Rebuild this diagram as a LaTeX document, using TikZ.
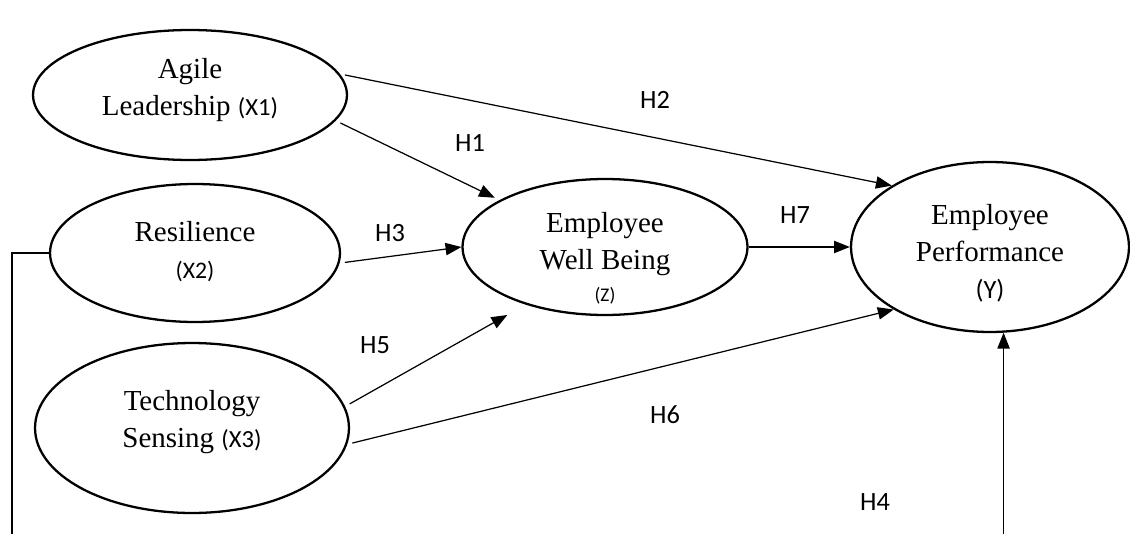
\documentclass[tikz,border=0pt]{standalone}
\usepackage{fontspec}
\setmainfont{Liberation Serif}
\newfontfamily\hfont{Carlito}
\usetikzlibrary{shapes.geometric,arrows.meta}

% text block moved up/down inside its ellipse
\newcommand{\vlift}[2]{\raisebox{#1}[0pt][0pt]{\begin{tabular}{@{}c@{}}#2\end{tabular}}}

\tikzset{
  var/.style={draw, ellipse, line width=1.3pt, inner sep=0pt,
    font=\fontsize{16.5}{21}\selectfont},
  hyp/.style={draw, line width=0.7pt, shorten <=3pt, -{Triangle[length=9pt,width=7pt]}},
  hlab/.style={font=\hfont\fontsize{15}{18}\selectfont},
}

\begin{document}
\begin{tikzpicture}[x=0.02cm, y=-0.02cm]
   \useasboundingbox (0,0) rectangle (1130,534);
   \clip (0,0) rectangle (1130,534);
   \node[var, minimum width=6.28cm, minimum height=2.6cm] (X1) at (190,95)
      {\vlift{-1.3pt}{Agile\\Leadership {\hfont\fontsize{14}{21}\selectfont(X1)}}};
   \node[var, minimum width=5.8cm, minimum height=2.76cm] (X2) at (195,253)
      {\vlift{-4.1pt}{Resilience\\{\hfont\fontsize{13.5}{21}\selectfont(X2)}}};
   \node[var, minimum width=6.28cm, minimum height=3.4cm] (X3) at (192,428)
      {\vlift{-0.7pt}{Technology\\Sensing {\hfont\fontsize{14}{21}\selectfont(X3)}}};
   \node[var, minimum width=5.7cm, minimum height=2.72cm] (Z) at (605,247)
      {\vlift{-11.5pt}{Employee\\Well Being\\[-3pt]{\hfont\fontsize{11}{14}\selectfont(Z)}}};
   \node[var, minimum width=5.56cm, minimum height=3.4cm] (Y) at (990,247)
      {\vlift{-8.5pt}{Employee\\Performance\\{\hfont\fontsize{15}{21}\selectfont(Y)}}};
   \coordinate (c1) at (12,560);
   \draw[hyp] (X1.8) -- (Y.148);
   \draw[hyp, shorten >=3pt] (X1.-10) -- (Z.156);
   \draw[hyp] (X2.-4) -- (Z.west);
   \draw[hyp, shorten <=0pt] (Z.east) -- (Y.west);
   \draw[hyp, shorten >=12pt] (X3.8) -- (Z.216);
   \draw[hyp] (X3.-6) -- (Y.213);
   \draw[hyp, shorten <=0pt] (X2.west) -| (c1) -| (Y.-81);
   \node[hlab] (h1) at (470,143) {H1};
   \node[hlab] (h2) at (655,100) {H2};
   \node[hlab] (h3) at (390,233) {H3};
   \node[hlab] (h4) at (875,502) {H4};
   \node[hlab] (h5) at (375,345) {H5};
   \node[hlab] (h6) at (665,415) {H6};
   \node[hlab] (h7) at (795,215) {H7};
\end{tikzpicture}
\end{document}
